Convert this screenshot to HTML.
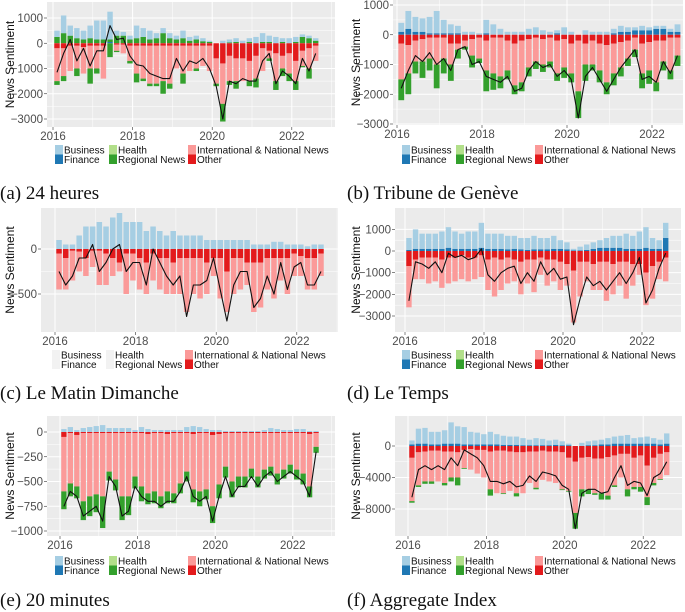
<!DOCTYPE html>
<html><head><meta charset="utf-8">
<style>
body{margin:0;background:#fff;}
svg{display:block;font-family:"Liberation Sans",sans-serif;}
.cap{font-family:"Liberation Serif",serif;font-size:19px;fill:#111;}
</style></head>
<body>
<svg id="chart" width="685" height="612" viewBox="0 0 685 612" xmlns="http://www.w3.org/2000/svg"></svg>
<script>
// Bi-monthly values, 2016 through 2022 (40 points each)
const aLine=[-1150,-400,150,-700,-200,-900,-300,-300,700,150,200,-500,-850,-900,-1200,-1300,-1400,-1400,-600,-1100,-700,-800,-600,-1000,-1700,-3000,-1500,-1600,-1400,-1500,-1500,-700,-400,-1600,-1100,-1300,-1600,-600,-1100,-400];
const aPos=[500,1100,700,600,500,700,900,900,1250,500,450,300,700,600,500,400,600,400,300,500,250,300,200,100,0,100,150,200,100,200,250,400,300,250,200,200,250,350,300,200];
const aPosGreen=[250,400,300,200,150,200,150,150,100,300,300,150,200,250,150,200,400,200,150,200,100,150,80,50,0,0,30,50,0,50,0,50,50,0,50,0,50,250,200,100];
const aFin=[0,0,0,0,0,0,0,0,50,0,0,0,0,0,0,0,0,0,0,0,0,0,0,0,0,0,0,0,0,0,0,0,0,0,0,0,0,0,0,0];
const aRed=[200,200,100,100,150,100,100,100,0,50,50,100,100,100,100,100,100,100,100,100,100,100,100,100,600,800,500,600,600,700,500,200,300,400,500,400,700,300,200,100];
const aPink=[1500,1300,1100,1000,1200,1000,1000,1400,0,300,400,700,1200,1400,1600,1600,1500,1600,1000,1200,1100,1000,900,1100,1600,2400,1500,1500,1500,1500,1400,1100,600,1500,1000,1200,1500,900,1000,700];

const bLine=[-1800,-1200,-700,-900,-600,-1000,-800,-1200,-500,-400,-1000,-900,-1400,-1500,-1600,-1400,-1900,-1800,-1200,-900,-1100,-1000,-1400,-1200,-1500,-2800,-1400,-1100,-1500,-1900,-1500,-1100,-800,-500,-1500,-1400,-1600,-900,-1300,-700];
const bPos=[400,800,600,550,600,800,500,350,300,100,100,50,500,350,200,100,100,100,200,250,150,100,150,250,100,0,150,100,100,100,200,300,250,250,300,250,300,300,200,350];
const bFin=[100,200,100,100,50,50,50,50,50,0,0,0,50,0,0,0,0,0,0,0,0,0,50,0,0,0,0,0,0,0,50,100,100,150,150,150,200,200,100,100];
const bRed=[300,350,200,150,100,100,100,300,300,200,150,100,200,100,100,200,300,200,150,100,150,100,200,150,300,200,300,200,300,350,300,250,200,100,300,250,200,200,100,100];
const bPink=[1500,1300,900,900,800,1000,800,1000,500,400,700,800,1200,1300,1400,1200,1700,1600,1100,900,1000,900,1300,1100,1300,1900,1000,1000,1200,1600,1300,1100,800,500,1300,1200,1600,900,1200,700];

const cLine=[-250,-400,-300,-100,-100,50,-250,-150,0,50,-250,-150,-150,-400,0,-150,-300,-400,-300,-750,-400,-400,-350,-100,-450,-800,-400,-250,-250,-650,-550,-300,-500,-150,-450,-200,-150,-400,-400,-250];
const cPos=[100,50,50,150,250,250,300,250,350,400,300,300,300,200,250,200,150,200,150,150,150,150,100,100,100,100,100,100,100,50,50,50,80,80,50,50,50,30,50,50];
const cRed=[50,100,20,30,100,20,20,50,100,150,50,50,100,150,50,100,100,150,100,100,100,100,150,100,100,250,100,100,150,150,150,100,100,100,100,50,80,100,100,50];
const cPink=[450,450,350,250,300,200,400,400,300,250,500,350,450,500,350,450,500,500,500,700,500,550,500,300,550,700,500,450,400,700,650,450,550,350,500,300,300,450,450,300];

const dLine=[-2300,-500,-600,-800,-500,-1000,-100,-300,-200,-400,-300,100,-1100,-1400,-1000,-800,-700,-1500,-1000,-1400,-500,-1100,-800,-1300,-1200,-3400,-2200,-1200,-1600,-1400,-1800,-1400,-1000,-1500,-1000,-300,-2400,-1800,-800,-100];
const dPos=[600,1000,800,800,800,900,1100,900,800,900,900,1300,800,800,800,700,700,600,600,700,600,600,700,500,400,100,200,300,400,500,600,700,700,800,700,900,1100,600,500,1300];
const dFin=[50,100,100,100,100,100,150,100,100,100,100,150,100,100,100,80,100,80,50,80,80,80,100,100,80,30,30,50,100,150,150,150,150,100,100,100,150,100,100,600];
const dRed=[700,400,300,300,300,400,300,300,200,300,300,200,400,300,400,300,400,500,400,400,300,400,400,500,600,900,500,500,600,500,500,600,500,500,600,600,1000,700,500,300];
const dPink=[2600,1300,1300,1500,1400,1700,1500,1400,1300,1400,1300,1200,1800,2100,1800,1500,1400,2000,1500,1900,1100,1600,1400,1800,1600,3300,2100,1400,1800,1800,2300,2000,1600,2200,1600,1100,2500,2200,1300,1400];

const eLine=[-750,-600,-650,-850,-800,-750,-900,-450,-550,-850,-800,-550,-650,-700,-700,-750,-700,-700,-600,-450,-650,-700,-650,-900,-650,-450,-650,-550,-550,-450,-550,-450,-400,-500,-450,-400,-450,-500,-650,-200];
const ePos=[30,50,20,40,50,60,70,40,40,40,40,20,50,30,20,20,20,20,20,50,60,50,30,20,20,10,10,10,10,10,10,20,40,30,20,20,30,30,10,10];
const eRed=[50,10,30,10,10,10,10,10,10,10,10,10,10,20,10,10,20,10,10,10,20,10,10,30,20,10,10,10,10,10,10,10,10,10,10,10,10,10,20,10];
const ePink=[600,520,550,700,650,630,650,400,480,650,650,450,550,620,600,650,600,620,520,400,580,600,580,750,530,350,500,450,450,370,450,380,350,420,380,330,380,420,550,150];

const fLine=[-6500,-3000,-2500,-3000,-2500,-3000,-1500,-2500,-500,-1000,-1500,-2500,-4500,-4500,-4800,-4500,-5200,-5000,-3800,-4500,-3300,-3500,-3800,-5000,-5500,-10500,-6000,-5500,-5500,-6000,-5800,-4000,-2500,-5000,-4500,-4700,-6300,-4000,-3500,-2000];
const fPos=[700,2200,2300,1800,1800,2000,3000,2500,2400,1800,1700,1500,1800,1500,1300,1200,1200,1000,800,1000,900,700,800,600,300,0,400,600,700,800,1000,1200,1300,1400,1000,1100,1200,1000,800,1600];
const fFin=[200,300,300,200,200,300,300,300,200,200,200,200,200,200,150,150,150,100,100,100,100,100,150,100,100,0,0,100,100,200,200,300,300,300,300,300,300,300,200,300];
const fRed=[1500,800,700,600,600,700,700,800,500,400,500,500,700,600,600,700,800,800,700,700,600,700,700,800,1500,2000,1500,1400,1600,1600,1400,1200,1000,1000,1500,1200,2500,1500,1000,800];
const fPink=[7000,5000,4500,4500,4500,4700,4000,4000,2800,3000,3500,4000,5500,6000,6000,5700,6000,6000,4700,5300,4300,4500,4700,5500,5700,8500,5500,5500,6000,6000,6300,5000,4000,5500,5200,5200,6500,4700,4200,3700];

const aTicks=[1000,0,-1000,-2000,-3000];
const bTicks=[1000,0,-1000,-2000,-3000];
const cTicks=[0,-500];
const dTicks=[1000,0,-1000,-2000,-3000];
const eTicks=[0,-250,-500,-750,-1000];
const fTicks=[0,-4000,-8000];
const yearTicks=[2016,2018,2020,2022];

const C={bus:"#a6cee3",fin:"#1f78b4",hea:"#b2df8a",reg:"#33a02c",pink:"#fb9a99",red:"#e31a1c"};
const NS="http://www.w3.org/2000/svg";
const svg=document.getElementById('chart');
function mk(tag,attrs,parent){const e=document.createElementNS(NS,tag);for(const k in attrs)e.setAttribute(k,attrs[k]);(parent||svg).appendChild(e);return e;}

const panels=[
 {id:'a',cap:'(a) 24 heures',capX:0,capY:199,titleX:10,x0:47,x1:335,y0:2,y1:127,v1:1000,p1:18,v2:-3000,p2:119,x16:53,pyr:39.8,lx:55,ly:150,ticks:aTicks,line:aLine,pos:aPos,pg:aPosGreen,fin:aFin,red:aRed,pink:aPink,green:true,blank:false},
 {id:'b',cap:'(b) Tribune de Genève',capX:347,capY:199,titleX:356,x0:393,x1:683,y0:0,y1:125,v1:1000,p1:5,v2:-3000,p2:124,x16:397,pyr:42.5,lx:402,ly:150,ticks:bTicks,line:bLine,pos:bPos,pg:null,fin:bFin,red:bRed,pink:bPink,green:true,blank:false},
 {id:'c',cap:'(c) Le Matin Dimanche',capX:0,capY:399,titleX:10,x0:41,x1:338,y0:208,y1:332,v1:0,p1:249,v2:-500,p2:294,x16:55,pyr:40.3,lx:52,ly:355,ticks:cTicks,line:cLine,pos:cPos,pg:null,fin:null,red:cRed,pink:cPink,green:false,blank:true},
 {id:'d',cap:'(d) Le Temps',capX:347,capY:399,titleX:356,x0:395,x1:681,y0:208,y1:332,v1:0,p1:251,v2:-3000,p2:316,x16:405,pyr:39.5,lx:402,ly:355,ticks:dTicks,line:dLine,pos:dPos,pg:null,fin:dFin,red:dRed,pink:dPink,green:false,blank:false},
 {id:'e',cap:'(e) 20 minutes',capX:0,capY:606,titleX:10,x0:47,x1:335,y0:416,y1:536,v1:0,p1:432,v2:-1000,p2:531,x16:60,pyr:38.8,lx:55,ly:561,ticks:eTicks,line:eLine,pos:ePos,pg:null,fin:null,red:eRed,pink:ePink,green:true,blank:false},
 {id:'f',cap:'(f) Aggregate Index',capX:347,capY:606,titleX:356,x0:395,x1:682,y0:416,y1:536,v1:0,p1:446,v2:-8000,p2:509,x16:408,pyr:39.2,lx:402,ly:561,ticks:fTicks,line:fLine,pos:fPos,pg:null,fin:fFin,red:fRed,pink:fPink,green:true,blank:false}
];

panels.forEach(P=>{
 const g=mk('g',{});
 
 
 const Y=v=>P.p1+(v-P.v1)*(P.p2-P.p1)/(P.v2-P.v1);
 const X=t=>P.x16+(t-2016)*P.pyr;
 const bg=mk('rect',{x:P.x0,y:P.y0,width:P.x1-P.x0,height:P.y1-P.y0,fill:'#ebebeb'},g);
 
 
 for(let i=0;i<P.ticks.length-1;i++){const m=Y((P.ticks[i]+P.ticks[i+1])/2);mk('line',{x1:P.x0,x2:P.x1,y1:m,y2:m,stroke:'#fff','stroke-width':0.5},g);}
 for(let yy=2015;yy<=2023;yy++){if(yy%2===1){const xx=X(yy);if(xx>P.x0&&xx<P.x1)mk('line',{x1:xx,x2:xx,y1:P.y0,y2:P.y1,stroke:'#fff','stroke-width':0.5},g);}}
 P.ticks.forEach(t=>{const yy=Y(t);
  mk('line',{x1:P.x0,x2:P.x1,y1:yy,y2:yy,stroke:'#fff','stroke-width':1},g);
  mk('line',{x1:P.x0-3,x2:P.x0,y1:yy,y2:yy,stroke:'#333','stroke-width':0.6},g);
  const tx=mk('text',{x:P.x0-4,y:yy+4,'text-anchor':'end','font-size':11.5,fill:'#4d4d4d'},g);
  
  
  tx.textContent=t===0?'0':String(t).replace('-','\u2212');});
 yearTicks.forEach(t=>{const xx=X(t);
  mk('line',{x1:xx,x2:xx,y1:P.y0,y2:P.y1,stroke:'#fff','stroke-width':1},g);
  mk('line',{x1:xx,x2:xx,y1:P.y1,y2:P.y1+3,stroke:'#333','stroke-width':0.6},g);
  const tx=mk('text',{x:xx,y:P.y1+13,'text-anchor':'middle','font-size':11.5,fill:'#4d4d4d'},g);
  
  
  tx.textContent=t;});
 const bw=P.pyr/6*0.82;
 const n=P.line.length;
 for(let i=0;i<n;i++){
  const t=2016+(i*2+1.2)/12, cx=X(t), bx=cx-bw/2;
  const fin=P.fin?P.fin[i]:0, pg=P.pg?P.pg[i]:0, pos=P.pos[i];
  const seg=(v0,v1,col,name)=>{if(v1===v0)return;const ya=Y(Math.max(v0,v1)),yb=Y(Math.min(v0,v1));
   const r=mk('rect',{x:bx,y:ya,width:bw,height:Math.max(0,yb-ya),fill:col},g);
   
   };
  seg(0,fin,C.fin,'bar-finance');
  seg(fin,fin+pg,C.reg,'bar-regional-positive');
  seg(fin+pg,Math.max(pos,fin+pg),C.bus,'bar-business');
  const red=P.red[i], pink=Math.max(P.pink[i],red);
  seg(0,-red,C.red,'bar-other');
  seg(-red,-pink,C.pink,'bar-international-national');
  if(P.green){const gr=Math.max(0,pos-P.line[i]-pink);seg(-pink,-pink-gr,C.reg,'bar-regional');}
 }
 let d='';
 for(let i=0;i<n;i++){const t=2016+(i*2+1.2)/12;d+=(i?'L':'M')+X(t).toFixed(1)+','+Y(P.line[i]).toFixed(1);}
 const pl=mk('path',{d:d,fill:'none',stroke:'#111','stroke-width':1.1,'stroke-linejoin':'round'},g);
 
 
 const ty=(P.y0+P.y1)/2;
 const at=mk('text',{x:P.titleX,y:ty,transform:`rotate(-90 ${P.titleX} ${ty})`,'text-anchor':'middle','dominant-baseline':'central','font-size':12,fill:'#111'},g);
 
 
 at.textContent='News Sentiment';
 const items=[['Business',C.bus,0,0],['Finance',C.fin,0,1],['Health',C.hea,54,0],['Regional News',C.reg,54,1],['International & National News',C.pink,133,0],['Other',C.red,133,1]];
 items.forEach(it=>{
  const blankKey=P.blank&&it[0]!=='International & National News'&&it[0]!=='Other';
  const lx=P.lx+it[2], ly=P.ly+it[3]*9.5;
  const sq=mk('rect',{x:lx,y:ly-5,width:8,height:9.5,fill:blankKey?'#f2f2f2':it[1]},g);
  
  
  const tx=mk('text',{x:lx+9,y:ly+3.5,'font-size':10,fill:'#111'},g);
  
  
  tx.textContent=it[0];});
 const cap=mk('text',{x:P.capX,y:P.capY,class:'cap'},g);
 
 
 cap.textContent=P.cap;
});
</script>
</body></html>
